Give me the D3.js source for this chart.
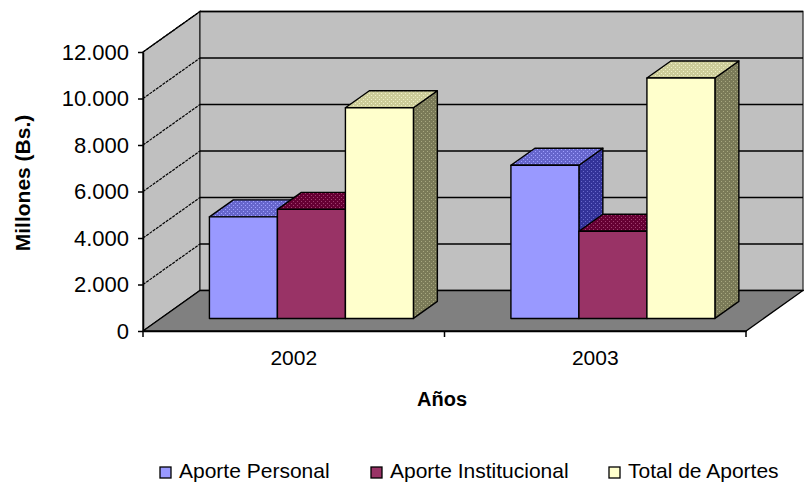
<!DOCTYPE html>
<html lang="es">
<head>
<meta charset="UTF-8">
<title>Aportes</title>
<script src="https://d3js.org/d3.v7.min.js"></script>
<style>
  body { margin: 0; background: #fff; }
  text { font-family: Arial, "Liberation Sans", sans-serif; fill: #000; }
</style>
</head>
<body>
<svg width="804" height="482"></svg>
<script>
var years = ["2002", "2003"];
var seriesNames = ["Aporte Personal", "Aporte Institucional", "Total de Aportes"];
var aportePersonal = [4370, 6590];
var aporteInstitucional = [4690, 3750];
var totalAportes = [9060, 10340];
var yTicks = [0, 2000, 4000, 6000, 8000, 10000, 12000];

var seriesValues = [aportePersonal, aporteInstitucional, totalAportes];
var frontColors = ["#9999ff", "#993366", "#ffffcc"];
var topColors = [["#6666cc", "#a0a0ff"], ["#660033", "#a04070"], ["#cccc99", "#f0f0c8"]];
var sideColors = [["#333399", "#6a6acc"], ["#4a0026", "#7a3355"], ["#7a7a58", "#a8a880"]];

var svg = d3.select("svg");

// depth of the 3d box
var DX = 57, DY = 40.5;
var d0 = 0.31, d1 = 0.73;
function proj(x, y, d) { return [x + d * DX, y - d * DY]; }
function pts(list) { return list.map(function(p) { return p.join(","); }).join(" "); }

var y = d3.scaleLinear().domain([0, 12000]).range([331, 52]);
var x = d3.scaleBand().domain(years).range([143, 746]);
var half = (x.bandwidth() - 3 * 68) / 2;
var inner = d3.scaleBand().domain(seriesNames).range([half, x.bandwidth() - half]);

var loc = d3.formatLocale({decimal: ",", thousands: ".", grouping: [3], currency: ["", ""]});
var fmt = loc.format(",");

// patterns for top and side faces
var defs = svg.append("defs");
function makePattern(id, c) {
  var p = defs.append("pattern").attr("id", id)
    .attr("patternUnits", "userSpaceOnUse").attr("width", 4).attr("height", 4);
  p.append("rect").attr("width", 4).attr("height", 4).attr("fill", c[0]);
  p.append("rect").attr("x", 1).attr("y", 1).attr("width", 1).attr("height", 1).attr("fill", c[1]);
  p.append("rect").attr("x", 3).attr("y", 3).attr("width", 1).attr("height", 1).attr("fill", c[1]);
}
seriesNames.forEach(function(s, j) {
  makePattern("top" + j, topColors[j]);
  makePattern("side" + j, sideColors[j]);
});

var x0 = x.range()[0], x1 = x.range()[1];
var yb = y(0), yt = y(12000);

// walls and floor
svg.append("polygon")
  .attr("points", pts([proj(x0, yt, 0), proj(x0, yt, 1), proj(x0, yb, 1), proj(x0, yb, 0)]))
  .attr("fill", "#c0c0c0").attr("stroke", "#000").attr("stroke-width", 1.3);
svg.append("polygon")
  .attr("points", pts([proj(x0, yt, 1), proj(x1, yt, 1), proj(x1, yb, 1), proj(x0, yb, 1)]))
  .attr("fill", "#c0c0c0").attr("stroke", "#333").attr("stroke-width", 1.3);
svg.append("polygon")
  .attr("points", pts([proj(x0, yb, 0), proj(x1, yb, 0), proj(x1, yb, 1), proj(x0, yb, 1)]))
  .attr("fill", "#808080").attr("stroke", "#000").attr("stroke-width", 1.3);

// gridlines
yTicks.forEach(function(t) {
  if (t === 0) return;
  var a = proj(x0, y(t), 0), b = proj(x0, y(t), 1), c = proj(x1, y(t), 1);
  svg.append("line").attr("x1", a[0]).attr("y1", a[1]).attr("x2", b[0]).attr("y2", b[1])
    .attr("stroke", "#000").attr("stroke-width", 1.2).attr("stroke-dasharray", "3,1");
  svg.append("line").attr("x1", b[0]).attr("y1", b[1]).attr("x2", c[0]).attr("y2", c[1])
    .attr("stroke", "#000").attr("stroke-width", 1.3);
});

// bars, left to right so later fronts cover earlier sides
years.forEach(function(yr, i) {
  seriesNames.forEach(function(s, j) {
    var v = seriesValues[j][i];
    var xl = x(yr) + inner(s), xr = xl + inner.bandwidth();
    var y1 = y(v), y0 = y(0);
    var g = svg.append("g").attr("stroke", "#000").attr("stroke-width", 1.4).attr("stroke-linejoin", "round");
    g.append("polygon")
      .attr("points", pts([proj(xr, y1, d0), proj(xr, y1, d1), proj(xr, y0, d1), proj(xr, y0, d0)]))
      .attr("fill", "url(#side" + j + ")");
    g.append("polygon")
      .attr("points", pts([proj(xl, y1, d0), proj(xr, y1, d0), proj(xr, y1, d1), proj(xl, y1, d1)]))
      .attr("fill", "url(#top" + j + ")");
    g.append("polygon")
      .attr("points", pts([proj(xl, y1, d0), proj(xr, y1, d0), proj(xr, y0, d0), proj(xl, y0, d0)]))
      .attr("fill", frontColors[j]);
  });
});

// y axis
var yAxis = svg.append("g").attr("transform", "translate(" + x0 + ",0)")
  .call(d3.axisLeft(y).tickValues(yTicks).tickFormat(fmt).tickSize(5).tickPadding(9).tickSizeOuter(0));
yAxis.select(".domain").attr("stroke", "#000").attr("stroke-width", 1.5);
yAxis.selectAll(".tick line").attr("stroke", "#000").attr("stroke-width", 1.5);
yAxis.selectAll("text").attr("font-size", "22px").attr("font-family", "Arial, 'Liberation Sans', sans-serif").attr("fill", "#222");

// x axis
var xAxis = svg.append("g").attr("transform", "translate(0," + yb + ")")
  .call(d3.axisBottom(x).tickSize(0).tickPadding(19).tickSizeOuter(0));
xAxis.select(".domain").attr("stroke", "#000").attr("stroke-width", 1.5);
xAxis.selectAll("text").attr("font-size", "21px").attr("font-family", "Arial, 'Liberation Sans', sans-serif").attr("fill", "#222");
var edges = years.map(function(d) { return x(d); }).concat([x1]);
xAxis.selectAll(".edge").data(edges).enter().append("line")
  .attr("x1", function(d) { return d; }).attr("x2", function(d) { return d; })
  .attr("y1", 0).attr("y2", 6).attr("stroke", "#000").attr("stroke-width", 1.5);

// titles
svg.append("text").attr("transform", "translate(22,183) rotate(-90)")
  .attr("text-anchor", "middle").attr("dominant-baseline", "central")
  .attr("font-weight", "bold").attr("font-size", "21px").text("Millones (Bs.)");
svg.append("text").attr("x", 442).attr("y", 406).attr("text-anchor", "middle")
  .attr("font-weight", "bold").attr("font-size", "20px").text("Años");

// legend
var legendX = [160, 371, 609];
var legend = svg.append("g");
seriesNames.forEach(function(s, j) {
  legend.append("rect").attr("x", legendX[j]).attr("y", 467).attr("width", 11).attr("height", 11)
    .attr("fill", frontColors[j]).attr("stroke", "#000").attr("stroke-width", 1.3);
  legend.append("text").attr("x", legendX[j] + 19).attr("y", 478)
    .attr("font-size", "21px").attr("fill", "#222").text(s);
});
</script>
</body>
</html>
